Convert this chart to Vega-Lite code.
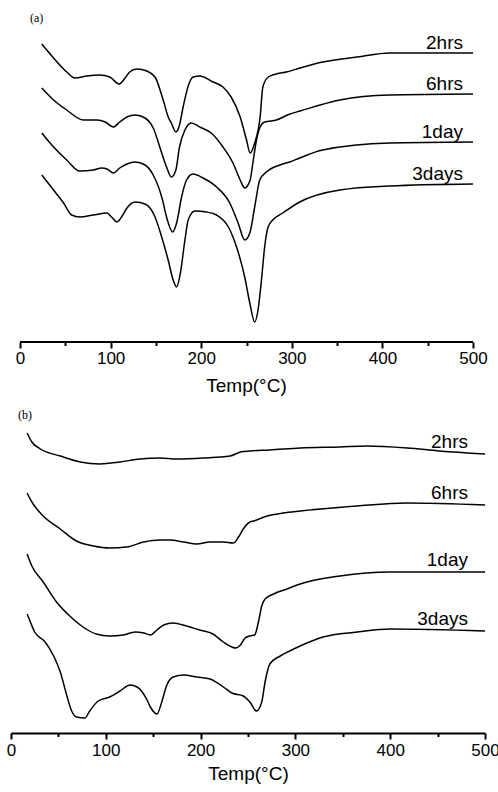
{
  "$schema": "https://vega.github.io/schema/vega-lite/v6.json",
  "padding": {"left": 0, "top": 10, "right": 0, "bottom": 0},
  "background": "white",
  "config": {"view": {"stroke": null}},
  "datasets": {
    "a": [
      {"s":"2hrs","T":24,"v":298},{"s":"2hrs","T":37,"v":284},{"s":"2hrs","T":51.5,"v":270},{"s":"2hrs","T":60.6,"v":264},{"s":"2hrs","T":73.5,"v":266},{"s":"2hrs","T":88,"v":267},{"s":"2hrs","T":99,"v":265},{"s":"2hrs","T":109.5,"v":258},{"s":"2hrs","T":116,"v":264},{"s":"2hrs","T":121,"v":270},{"s":"2hrs","T":129,"v":273},{"s":"2hrs","T":140,"v":271},{"s":"2hrs","T":149,"v":265},{"s":"2hrs","T":158,"v":242},{"s":"2hrs","T":164,"v":224},{"s":"2hrs","T":167,"v":219},{"s":"2hrs","T":172,"v":210},{"s":"2hrs","T":176,"v":217},{"s":"2hrs","T":180,"v":235},{"s":"2hrs","T":186,"v":257},{"s":"2hrs","T":191,"v":265},{"s":"2hrs","T":198.5,"v":266},{"s":"2hrs","T":213,"v":260},{"s":"2hrs","T":224,"v":255},{"s":"2hrs","T":233,"v":245},{"s":"2hrs","T":243,"v":225},{"s":"2hrs","T":250,"v":202},{"s":"2hrs","T":254,"v":189},{"s":"2hrs","T":259,"v":199},{"s":"2hrs","T":265,"v":225},{"s":"2hrs","T":268,"v":255},{"s":"2hrs","T":274,"v":265},{"s":"2hrs","T":283,"v":268},{"s":"2hrs","T":294,"v":270},{"s":"2hrs","T":309,"v":274},{"s":"2hrs","T":334,"v":280},{"s":"2hrs","T":372,"v":285},{"s":"2hrs","T":408,"v":289},{"s":"2hrs","T":450,"v":289},{"s":"2hrs","T":500,"v":289},
      {"s":"6hrs","T":24,"v":254},{"s":"6hrs","T":37,"v":242},{"s":"6hrs","T":51.5,"v":232},{"s":"6hrs","T":70,"v":222},{"s":"6hrs","T":85,"v":222},{"s":"6hrs","T":94,"v":220},{"s":"6hrs","T":103,"v":215},{"s":"6hrs","T":110,"v":220},{"s":"6hrs","T":118,"v":225},{"s":"6hrs","T":127,"v":227},{"s":"6hrs","T":138,"v":224},{"s":"6hrs","T":147,"v":214},{"s":"6hrs","T":156,"v":190},{"s":"6hrs","T":161.7,"v":175},{"s":"6hrs","T":167,"v":165},{"s":"6hrs","T":172,"v":172},{"s":"6hrs","T":176,"v":195},{"s":"6hrs","T":182,"v":212},{"s":"6hrs","T":189,"v":219},{"s":"6hrs","T":198.5,"v":215},{"s":"6hrs","T":211,"v":209},{"s":"6hrs","T":224,"v":195},{"s":"6hrs","T":235,"v":179},{"s":"6hrs","T":243,"v":162},{"s":"6hrs","T":248,"v":154},{"s":"6hrs","T":254,"v":162},{"s":"6hrs","T":257,"v":179},{"s":"6hrs","T":261,"v":202},{"s":"6hrs","T":265,"v":215},{"s":"6hrs","T":270,"v":220},{"s":"6hrs","T":283,"v":222},{"s":"6hrs","T":298,"v":228},{"s":"6hrs","T":309,"v":231},{"s":"6hrs","T":353,"v":242},{"s":"6hrs","T":408,"v":247},{"s":"6hrs","T":500,"v":248},
      {"s":"1day","T":24,"v":209},{"s":"1day","T":37,"v":195},{"s":"1day","T":51.5,"v":182},{"s":"1day","T":66,"v":171},{"s":"1day","T":81,"v":172},{"s":"1day","T":90,"v":174},{"s":"1day","T":96,"v":173},{"s":"1day","T":103,"v":169},{"s":"1day","T":110,"v":174},{"s":"1day","T":118,"v":178},{"s":"1day","T":127,"v":180},{"s":"1day","T":138,"v":177},{"s":"1day","T":147,"v":167},{"s":"1day","T":157,"v":143},{"s":"1day","T":161.7,"v":125},{"s":"1day","T":168.4,"v":110},{"s":"1day","T":172.8,"v":119},{"s":"1day","T":178.3,"v":145},{"s":"1day","T":183.8,"v":162},{"s":"1day","T":191,"v":168},{"s":"1day","T":202,"v":164},{"s":"1day","T":217,"v":155},{"s":"1day","T":231.5,"v":139},{"s":"1day","T":240.7,"v":119},{"s":"1day","T":248,"v":102},{"s":"1day","T":253.6,"v":109},{"s":"1day","T":259,"v":135},{"s":"1day","T":264.6,"v":162},{"s":"1day","T":272,"v":170},{"s":"1day","T":286.7,"v":177},{"s":"1day","T":297.7,"v":180},{"s":"1day","T":308.7,"v":184},{"s":"1day","T":334,"v":192},{"s":"1day","T":408,"v":199},{"s":"1day","T":500,"v":200},
      {"s":"3days","T":24,"v":167},{"s":"3days","T":37,"v":152},{"s":"3days","T":48,"v":139},{"s":"3days","T":57,"v":127},{"s":"3days","T":66,"v":125},{"s":"3days","T":81,"v":127},{"s":"3days","T":96,"v":129},{"s":"3days","T":101,"v":125},{"s":"3days","T":107,"v":120},{"s":"3days","T":112,"v":125},{"s":"3days","T":118,"v":134},{"s":"3days","T":127,"v":140},{"s":"3days","T":138,"v":138},{"s":"3days","T":149,"v":125},{"s":"3days","T":156,"v":106},{"s":"3days","T":163.5,"v":82},{"s":"3days","T":169,"v":62},{"s":"3days","T":172.8,"v":55},{"s":"3days","T":177,"v":69},{"s":"3days","T":182,"v":102},{"s":"3days","T":185.6,"v":122},{"s":"3days","T":193,"v":131},{"s":"3days","T":206,"v":130},{"s":"3days","T":217,"v":127},{"s":"3days","T":230,"v":115},{"s":"3days","T":239,"v":95},{"s":"3days","T":248,"v":65},{"s":"3days","T":253.6,"v":39},{"s":"3days","T":259,"v":20},{"s":"3days","T":262.7,"v":32},{"s":"3days","T":266.5,"v":62},{"s":"3days","T":270,"v":95},{"s":"3days","T":273.8,"v":115},{"s":"3days","T":279,"v":122},{"s":"3days","T":290,"v":129},{"s":"3days","T":308.7,"v":140},{"s":"3days","T":353,"v":152},{"s":"3days","T":408,"v":156},{"s":"3days","T":500,"v":158}
    ],
    "b": [
      {"s":"2hrs","T":17,"v":300},{"s":"2hrs","T":22,"v":291},{"s":"2hrs","T":31,"v":284},{"s":"2hrs","T":52,"v":277},{"s":"2hrs","T":73,"v":271},{"s":"2hrs","T":94,"v":269},{"s":"2hrs","T":115,"v":271},{"s":"2hrs","T":136,"v":274},{"s":"2hrs","T":157,"v":275},{"s":"2hrs","T":175,"v":274},{"s":"2hrs","T":203,"v":275},{"s":"2hrs","T":231,"v":277},{"s":"2hrs","T":242,"v":281},{"s":"2hrs","T":252,"v":282},{"s":"2hrs","T":273,"v":283},{"s":"2hrs","T":305,"v":285},{"s":"2hrs","T":347,"v":286},{"s":"2hrs","T":375,"v":287},{"s":"2hrs","T":418,"v":285},{"s":"2hrs","T":452,"v":282},{"s":"2hrs","T":500,"v":279},
      {"s":"6hrs","T":17,"v":240},{"s":"6hrs","T":22,"v":231},{"s":"6hrs","T":34,"v":217},{"s":"6hrs","T":52,"v":204},{"s":"6hrs","T":69,"v":192},{"s":"6hrs","T":87,"v":187},{"s":"6hrs","T":104,"v":185},{"s":"6hrs","T":122,"v":186},{"s":"6hrs","T":140,"v":191},{"s":"6hrs","T":157,"v":193},{"s":"6hrs","T":168,"v":193},{"s":"6hrs","T":182,"v":191},{"s":"6hrs","T":196,"v":189},{"s":"6hrs","T":210,"v":191},{"s":"6hrs","T":224,"v":191},{"s":"6hrs","T":234.5,"v":190},{"s":"6hrs","T":240,"v":196},{"s":"6hrs","T":245,"v":204},{"s":"6hrs","T":252,"v":211},{"s":"6hrs","T":256,"v":212},{"s":"6hrs","T":270,"v":217},{"s":"6hrs","T":287,"v":220},{"s":"6hrs","T":305,"v":222},{"s":"6hrs","T":365,"v":227},{"s":"6hrs","T":417,"v":230},{"s":"6hrs","T":500,"v":228},
      {"s":"1day","T":17,"v":179},{"s":"1day","T":22,"v":167},{"s":"1day","T":34,"v":151},{"s":"1day","T":48,"v":131},{"s":"1day","T":62,"v":117},{"s":"1day","T":76,"v":106},{"s":"1day","T":90,"v":99},{"s":"1day","T":104,"v":97},{"s":"1day","T":118.5,"v":98},{"s":"1day","T":131,"v":101},{"s":"1day","T":140,"v":100},{"s":"1day","T":147,"v":98},{"s":"1day","T":154,"v":103},{"s":"1day","T":161,"v":108},{"s":"1day","T":171,"v":110},{"s":"1day","T":185,"v":107},{"s":"1day","T":199,"v":103},{"s":"1day","T":213,"v":99},{"s":"1day","T":224,"v":91},{"s":"1day","T":233,"v":86},{"s":"1day","T":237,"v":85},{"s":"1day","T":242,"v":88},{"s":"1day","T":247,"v":95},{"s":"1day","T":252,"v":97},{"s":"1day","T":257,"v":98},{"s":"1day","T":261,"v":111},{"s":"1day","T":264.5,"v":127},{"s":"1day","T":268,"v":134},{"s":"1day","T":277,"v":139},{"s":"1day","T":291,"v":144},{"s":"1day","T":305,"v":149},{"s":"1day","T":347,"v":157},{"s":"1day","T":400,"v":161},{"s":"1day","T":500,"v":161},
      {"s":"3days","T":17,"v":119},{"s":"3days","T":20,"v":112},{"s":"3days","T":25,"v":101},{"s":"3days","T":36,"v":91},{"s":"3days","T":45,"v":77},{"s":"3days","T":52,"v":61},{"s":"3days","T":59,"v":37},{"s":"3days","T":64,"v":22},{"s":"3days","T":69,"v":16},{"s":"3days","T":78,"v":15},{"s":"3days","T":83,"v":22},{"s":"3days","T":92,"v":32},{"s":"3days","T":104,"v":36},{"s":"3days","T":115,"v":42},{"s":"3days","T":125.5,"v":48},{"s":"3days","T":133,"v":46},{"s":"3days","T":143,"v":34},{"s":"3days","T":147,"v":26},{"s":"3days","T":154,"v":19},{"s":"3days","T":159,"v":31},{"s":"3days","T":164,"v":47},{"s":"3days","T":171,"v":56},{"s":"3days","T":182,"v":58},{"s":"3days","T":196,"v":56},{"s":"3days","T":210,"v":54},{"s":"3days","T":224,"v":46},{"s":"3days","T":233,"v":40},{"s":"3days","T":245,"v":37},{"s":"3days","T":252,"v":31},{"s":"3days","T":259,"v":22},{"s":"3days","T":264.5,"v":31},{"s":"3days","T":268,"v":51},{"s":"3days","T":273,"v":69},{"s":"3days","T":284,"v":77},{"s":"3days","T":294,"v":82},{"s":"3days","T":305,"v":87},{"s":"3days","T":329,"v":96},{"s":"3days","T":365,"v":101},{"s":"3days","T":400,"v":104},{"s":"3days","T":500,"v":102}
    ]
  },
  "spacing": 1,
  "vconcat": [
    {
      "width": 462,
      "height": 332,
      "data": {"name": "a"},
      "title": {"text": "(a)", "anchor": "start", "frame": "group", "orient": "top", "offset": -15, "dx": 19, "font": "Liberation Serif", "fontSize": 12, "fontWeight": "normal", "color": "black"},
      "encoding": {
        "x": {"field": "T", "type": "quantitative", "scale": {"domain": [-10, 500], "nice": false, "zero": false},
          "axis": {"title": "Temp(°C)", "titleX": 235, "values": [0,50,100,150,200,250,300,350,400,450,500], "labelExpr": "datum.value % 100 === 0 ? datum.label : ''", "labelFlush": false, "labelOverlap": false, "grid": false, "domain": false, "tickColor": "black", "tickWidth": 2, "tickSize": {"condition": {"test": "datum.value % 100 !== 0", "value": 3.5}, "value": 6}, "labelFont": "Liberation Sans", "labelFontSize": 17, "labelColor": "black", "labelPadding": 2.5, "titleFont": "Liberation Sans", "titleFontSize": 19, "titleFontWeight": "normal", "titleColor": "black", "titlePadding": 10}},
        "y": {"field": "v", "type": "quantitative", "scale": {"domain": [0, 332], "nice": false, "zero": false},
          "axis": {"title": null, "domain": false, "labels": false, "grid": false, "ticks": true, "tickColor": "white", "tickSize": 10.5, "values": [100]}}
      },
      "layer": [
        {"mark": {"type": "rule", "color": "black", "strokeWidth": 2}, "encoding": {"x": {"datum": 0}, "x2": {"datum": 500}, "y": {"datum": 0}}},
        {"mark": {"type": "line", "color": "black", "strokeWidth": 1.5, "interpolate": "monotone"}, "encoding": {"detail": {"field": "s"}}},
        {"transform": [{"filter": "datum.T == 500"}], "mark": {"type": "text", "align": "right", "baseline": "alphabetic", "dx": -10, "dy": -4, "font": "Liberation Sans", "fontSize": 19, "color": "black"}, "encoding": {"text": {"field": "s"}}}
      ]
    },
    {
      "width": 474,
      "height": 336,
      "data": {"name": "b"},
      "title": {"text": "(b)", "anchor": "start", "frame": "group", "orient": "top", "offset": -25, "dx": 7, "font": "Liberation Serif", "fontSize": 12, "fontWeight": "normal", "color": "black"},
      "encoding": {
        "x": {"field": "T", "type": "quantitative", "scale": {"domain": [0, 500], "nice": false, "zero": false},
          "axis": {"title": "Temp(°C)", "values": [0,50,100,150,200,250,300,350,400,450,500], "labelExpr": "datum.value % 100 === 0 ? datum.label : ''", "labelFlush": false, "labelOverlap": false, "grid": false, "domainColor": "black", "domainWidth": 2, "tickColor": "black", "tickWidth": 2, "tickSize": {"condition": {"test": "datum.value % 100 !== 0", "value": 3.5}, "value": 6}, "labelFont": "Liberation Sans", "labelFontSize": 17, "labelColor": "black", "labelPadding": 3.5, "titleFont": "Liberation Sans", "titleFontSize": 19, "titleFontWeight": "normal", "titleColor": "black", "titlePadding": 6}},
        "y": {"field": "v", "type": "quantitative", "scale": {"domain": [0, 336], "nice": false, "zero": false},
          "axis": {"title": null, "domain": false, "labels": false, "grid": false, "ticks": true, "tickColor": "white", "tickSize": 10.5, "values": [100]}}
      },
      "layer": [
        {"mark": {"type": "line", "color": "black", "strokeWidth": 1.5, "interpolate": "monotone"}, "encoding": {"detail": {"field": "s"}}},
        {"transform": [{"filter": "datum.T == 500"}], "mark": {"type": "text", "align": "right", "baseline": "alphabetic", "dx": -17, "dy": -6, "font": "Liberation Sans", "fontSize": 19, "color": "black"}, "encoding": {"text": {"field": "s"}}}
      ]
    }
  ]
}
